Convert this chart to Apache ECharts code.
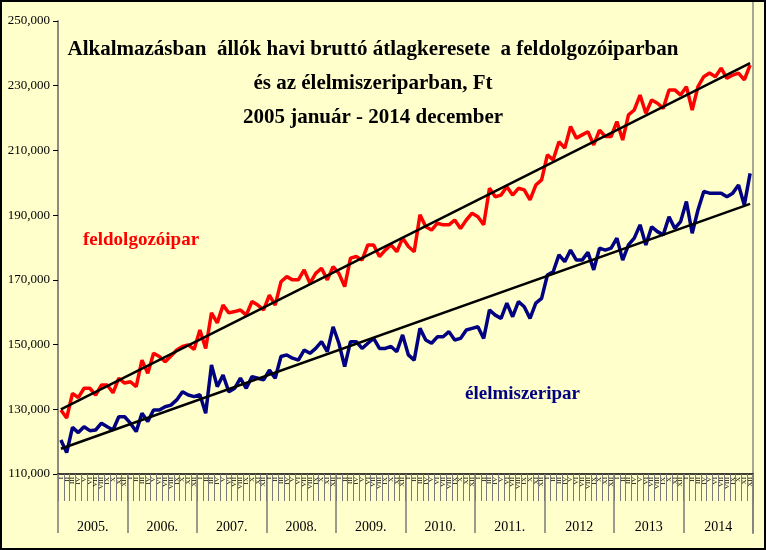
<!DOCTYPE html>
<html><head><meta charset="utf-8">
<script src="https://cdn.jsdelivr.net/npm/echarts@6/dist/echarts.min.js"></script>
<style>html,body{margin:0;padding:0;background:#fff}#c{width:766px;height:550px}</style>
</head><body><div id="c"></div>
<script>
// Month labels (Roman numerals) and year labels
const months = ['I','II','III','IV','V','VI','VII','VIII','IX','X','XI','XII'];
const years = ['2005.','2006.','2007.','2008.','2009.','2010.','2011.','2012','2013','2014'];

// Average gross monthly earnings, Ft (thousands)
const feldolgozoipar = [
 129.8,127.3,134.9,133.6,136.5,136.5,134.4,137.5,137.5,135.1,139.6,138.1,
 138.5,137.0,145.2,141.1,147.3,146.3,144.7,146.5,148.3,149.4,149.9,148.5,
 154.5,148.8,159.8,156.7,162.2,159.8,160.2,160.7,159.1,163.3,162.2,160.7,
 165.3,162.2,169.4,171.0,170.0,170.0,173.1,168.9,172.0,173.6,170.0,174.1,
 172.0,167.9,176.7,177.2,176.1,180.8,180.8,177.2,179.2,180.8,178.7,182.9,
 180.3,178.7,190.1,186.4,185.4,187.5,187.0,187.0,188.5,185.9,188.5,190.6,
 189.5,187.0,198.3,195.7,196.2,198.8,196.2,198.3,197.8,194.7,199.3,200.9,
 208.6,207.1,212.7,210.7,217.4,213.8,214.8,215.8,211.7,216.3,214.3,214.3,
 218.9,213.2,221.0,222.5,227.1,221.5,225.6,224.6,223.0,228.7,228.7,227.1,
 229.7,222.5,229.7,232.8,233.9,232.8,235.4,232.3,233.3,233.9,231.8,236.4
];
const elelmiszeripar = [
 120.5,116.6,124.4,122.8,124.6,123.4,123.6,125.7,124.6,123.6,127.7,127.7,
 125.7,123.1,128.8,126.2,129.8,129.8,130.8,131.3,132.9,135.4,134.4,133.9,
 134.5,128.8,143.7,137.0,140.6,135.4,136.5,139.6,136.5,140.1,139.6,139.1,
 142.1,139.6,146.3,146.8,145.8,145.2,148.3,147.3,148.8,150.9,147.8,155.5,
 150.4,143.2,150.9,150.9,148.8,150.4,151.9,148.8,148.8,149.4,147.8,153.0,
 146.8,145.2,155.0,151.4,150.4,152.4,152.4,154.0,151.4,151.9,154.5,155.0,
 155.5,151.9,160.7,159.1,158.1,162.8,158.6,163.3,161.7,158.1,162.8,164.3,
 171.5,172.5,177.7,175.6,179.2,176.1,176.1,178.5,173.1,179.8,179.2,179.8,
 182.9,176.1,180.8,182.9,187.0,180.8,186.4,184.9,183.9,189.5,185.9,188.0,
 194.2,184.4,191.6,197.3,196.8,196.8,196.8,195.7,196.8,199.3,193.1,202.9
];
// Linear trend line end values (first and last month), thousands Ft
const feldTrend = [130.0, 237.0];
const elelTrend = [117.8, 193.5];

// Y axis ticks
const yMin = 110000, yMax = 250000, yStep = 20000;

const categories = [];
years.forEach(y => months.forEach(m => categories.push(m)));
const toFt = v => Math.round(v * 1000);
const last = categories.length - 1;

const serif = '"Liberation Serif", "Times New Roman", serif';
const chart = echarts.init(document.getElementById('c'), null, {renderer: 'canvas'});
chart.setOption({
  backgroundColor: '#FFFFCC',
  animation: false,
  title: {
    text: 'Alkalmazásban  állók havi bruttó átlagkeresete  a feldolgozóiparban\nés az élelmiszeriparban, Ft\n2005 január - 2014 december',
    left: 368, top: 28, textAlign: 'center',
    textStyle: {fontFamily: serif, fontWeight: 'bold', fontSize: 21, lineHeight: 34, color: '#000'}
  },
  grid: {left: 58, right: 13, top: 21, bottom: 76, containLabel: false},
  xAxis: [{
    type: 'category', data: categories, position: 'bottom', boundaryGap: true,
    axisLine: {show: true, lineStyle: {color: '#000', width: 1.5}},
    axisTick: {show: true, interval: 0, length: 27, lineStyle: {color: '#7a7a7a', width: 1}},
    axisLabel: {interval: 0, rotate: 90, fontSize: 7, fontFamily: serif, color: '#000', margin: 3}
  }, {
    type: 'category', data: years, position: 'bottom', offset: 0, boundaryGap: true,
    axisLine: {show: false},
    axisTick: {show: true, interval: 0, length: 59, lineStyle: {color: '#7a7a7a', width: 1.5}},
    axisLabel: {interval: 0, fontSize: 14, fontFamily: serif, color: '#000', margin: 46}
  }],
  yAxis: {
    type: 'value', min: yMin, max: yMax, interval: yStep,
    axisLine: {show: true, lineStyle: {color: '#8c8c7c', width: 2}},
    axisTick: {show: true, length: 5, lineStyle: {color: '#000'}},
    axisLabel: {fontSize: 13, fontFamily: serif, color: '#000', margin: 8,
      formatter: v => v.toLocaleString('en-US')},
    splitLine: {show: false}
  },
  series: [
    {name: 'feldolgozóipar', type: 'line', data: feldolgozoipar.map(toFt), symbol: 'none',
     lineStyle: {color: '#FF0000', width: 3.5}, z: 2},
    {name: 'élelmiszeripar', type: 'line', data: elelmiszeripar.map(toFt), symbol: 'none',
     lineStyle: {color: '#000080', width: 3.5}, z: 2},
    {name: 'trend1', type: 'line', data: [[0, toFt(feldTrend[0])], [last, toFt(feldTrend[1])]], symbol: 'none',
     lineStyle: {color: '#000', width: 2.5}, z: 3},
    {name: 'trend2', type: 'line', data: [[0, toFt(elelTrend[0])], [last, toFt(elelTrend[1])]], symbol: 'none',
     lineStyle: {color: '#000', width: 2.5}, z: 3}
  ],
  graphic: [
    {type: 'line', shape: {x1: 753, y1: 2, x2: 753, y2: 534}, style: {stroke: '#a8a898', lineWidth: 2}},
    {type: 'text', left: 83, top: 231, style: {text: 'feldolgozóipar', fill: '#FF0000', font: 'bold 19px ' + serif}},
    {type: 'text', left: 465, top: 385, style: {text: 'élelmiszeripar', fill: '#000080', font: 'bold 19px ' + serif}},
    {type: 'rect', shape: {x: 1, y: 1, width: 764, height: 548}, style: {fill: null, stroke: '#000', lineWidth: 2}}
  ]
});
</script></body></html>
